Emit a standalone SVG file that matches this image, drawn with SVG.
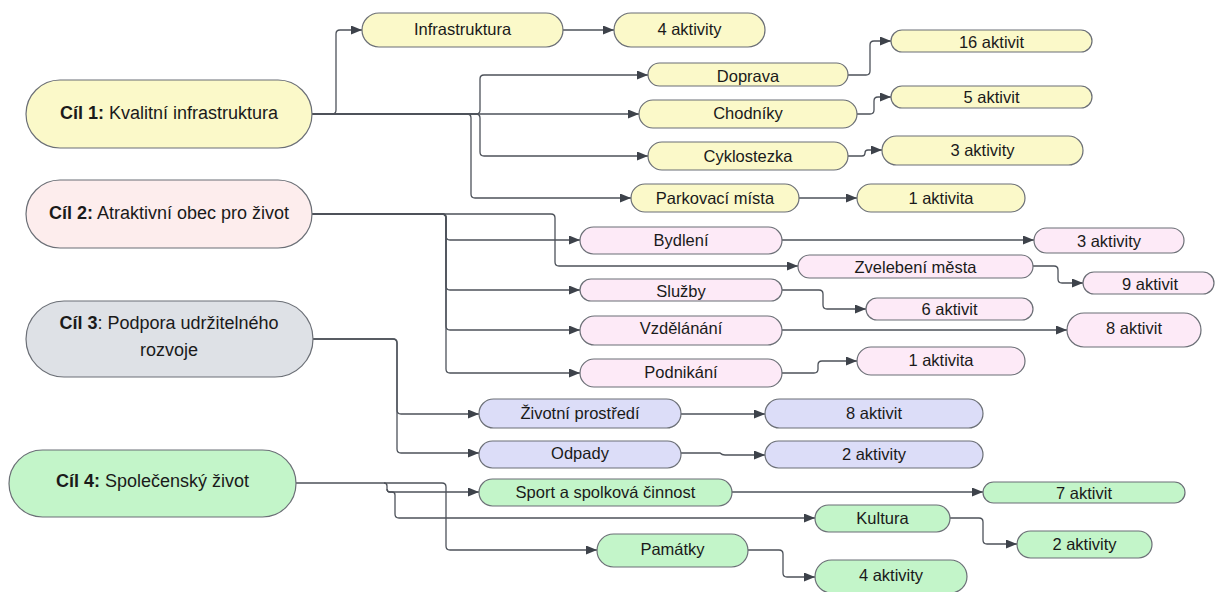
<svg xmlns="http://www.w3.org/2000/svg" width="1215" height="592" viewBox="0 0 1215 592">
<style>
.n{stroke:#6b6f76;stroke-width:1.2}
.y{fill:#FBF9C9}.pm{fill:#FDEDED}.p{fill:#FDEAF7}.g{fill:#DEE1E6}.b{fill:#DCDDF8}.gr{fill:#C3F5C9}
text{font-family:"Liberation Sans",Arial,sans-serif;fill:#1a1a1a;text-anchor:middle}
.m{font-size:18px}.c{font-size:16.5px}
.bd{font-weight:bold}
.e{fill:none;stroke:#4d525a;stroke-width:1.3;marker-end:url(#ah)}
.e2{fill:none;stroke:#4d525a;stroke-width:1.3}
</style>
<defs>
<marker id="ah" markerUnits="userSpaceOnUse" markerWidth="11" markerHeight="9" refX="11" refY="4.5" orient="auto">
<path d="M0,0 L11,4.5 L0,9 z" fill="#3d424a"/>
</marker>
</defs>
<rect width="1215" height="592" fill="#ffffff"/>
<g id="connectors">
<!-- Cil 1 -->
<path class="e" d="M312 114 H332 Q336 114 336 110 V34 Q336 30 340 30 H362"/>
<path class="e" d="M312 114 H476 Q480 114 480 110 V79 Q480 75 484 75 H648"/>
<path class="e" d="M312 114 H639"/>
<path class="e" d="M312 114 H476 Q480 114 480 118 V152 Q480 156 484 156 H648"/>
<path class="e" d="M312 114 H467 Q471 114 471 118 V194 Q471 198 475 198 H631"/>
<path class="e" d="M563 30 H614"/>
<path class="e" d="M848 75 H866 Q870 75 870 71 V45 Q870 41 874 41 H891"/>
<path class="e" d="M857 114 H870 Q874 114 874 110 V101 Q874 97 878 97 H891"/>
<path class="e" d="M848 156 H862 Q865 156 865 153 Q865 150 868 150 H882"/>
<path class="e" d="M799 198 H857"/>
<!-- Cil 2 -->
<path class="e" d="M312 214 H442 Q446 214 446 218 V236 Q446 240 450 240 H580"/>
<path class="e" d="M312 214 H442 Q446 214 446 218 V286 Q446 290 450 290 H580"/>
<path class="e" d="M312 214 H442 Q446 214 446 218 V326 Q446 330 450 330 H580"/>
<path class="e" d="M312 214 H442 Q446 214 446 218 V369 Q446 373 450 373 H580"/>
<path class="e" d="M312 214 H551 Q555 214 555 218 V262 Q555 266 559 266 H798"/>
<path class="e" d="M782 240 H1034"/>
<path class="e" d="M1033 266 H1054 Q1058 266 1058 270 V279 Q1058 283 1062 283 H1083"/>
<path class="e" d="M782 290 H819 Q823 290 823 294 V305 Q823 309 827 309 H866"/>
<path class="e" d="M782 330 H1067"/>
<path class="e" d="M782 373 H814 Q818 373 818 369 V365 Q818 361 822 361 H857"/>
<!-- Cil 3 -->
<path class="e" d="M313 339 H393 Q397 339 397 343 V410 Q397 414 401 414 H479"/>
<path class="e" d="M313 339 H393 Q397 339 397 343 V449 Q397 453 401 453 H479"/>
<path class="e" d="M681 414 H765"/>
<path class="e" d="M681 453 H720 Q722 455 725 455 H765"/>
<!-- Cil 4 -->
<path class="e" d="M296 483 H384 Q387 483 387 486 V489 Q387 492 390 492 H479"/>
<path class="e" d="M387 489 Q387 492 390 492 H392 Q395 492 395 495 V514 Q395 518 399 518 H815"/>
<path class="e" d="M384 483 H442 Q446 483 446 487 V546 Q446 550 450 550 H597"/>
<path class="e" d="M732 492 H983"/>
<path class="e" d="M950 518 H979 Q983 518 983 522 V540 Q983 544 987 544 H1017"/>
<path class="e" d="M748 550 H779 Q783 550 783 554 V573 Q783 577 787 577 H815"/>
</g>
<g id="cil1"><rect class="n y" x="26" y="80" width="286" height="68" rx="34"/><text class="m" x="169" y="119"><tspan class="bd">Cíl 1:</tspan> Kvalitní infrastruktura</text></g>
<g id="cil2"><rect class="n pm" x="26" y="180" width="286" height="68" rx="34"/><text class="m" x="169" y="219"><tspan class="bd">Cíl 2:</tspan> Atraktivní obec pro život</text></g>
<g id="cil3"><rect class="n g" x="26" y="301" width="287" height="76" rx="38"/><text class="m" x="169" y="329"><tspan class="bd">Cíl 3</tspan>: Podpora udržitelného</text><text class="m" x="169" y="356">rozvoje</text></g>
<g id="cil4"><rect class="n gr" x="9" y="450" width="287" height="67" rx="33.5"/><text class="m" x="152.5" y="487"><tspan class="bd">Cíl 4:</tspan> Společenský život</text></g>

<g id="infrastruktura"><rect class="n y" x="362" y="13" width="201" height="34" rx="17"/><text class="c" x="462.5" y="35">Infrastruktura</text></g>
<g id="a-infra"><rect class="n y" x="614" y="13" width="151" height="34" rx="17"/><text class="c" x="689.5" y="35">4 aktivity</text></g>
<g id="doprava"><rect class="n y" x="648" y="63" width="200" height="23" rx="11.5"/><text class="c" x="748" y="82">Doprava</text></g>
<g id="chodniky"><rect class="n y" x="639" y="100" width="218" height="28" rx="14"/><text class="c" x="748" y="119">Chodníky</text></g>
<g id="cyklostezka"><rect class="n y" x="648" y="142" width="200" height="28" rx="14"/><text class="c" x="748" y="162">Cyklostezka</text></g>
<g id="parkovaci"><rect class="n y" x="631" y="184" width="168" height="28" rx="14"/><text class="c" x="715" y="204">Parkovací místa</text></g>
<g id="a-doprava"><rect class="n y" x="891" y="30" width="201" height="22" rx="11"/><text class="c" x="991.5" y="48">16 aktivit</text></g>
<g id="a-chodniky"><rect class="n y" x="891" y="86" width="201" height="22" rx="11"/><text class="c" x="991.5" y="103">5 aktivit</text></g>
<g id="a-cyklo"><rect class="n y" x="882" y="136" width="201" height="29" rx="14.5"/><text class="c" x="982.5" y="156">3 aktivity</text></g>
<g id="a-parkovaci"><rect class="n y" x="857" y="184" width="168" height="28" rx="14"/><text class="c" x="941" y="204">1 aktivita</text></g>

<g id="bydleni"><rect class="n p" x="580" y="227" width="202" height="27" rx="13.5"/><text class="c" x="681" y="246">Bydlení</text></g>
<g id="zvelebeni"><rect class="n p" x="798" y="255" width="235" height="23" rx="11.5"/><text class="c" x="915.5" y="273">Zvelebení města</text></g>
<g id="sluzby"><rect class="n p" x="580" y="279" width="202" height="22" rx="11"/><text class="c" x="681" y="297">Služby</text></g>
<g id="vzdelanani"><rect class="n p" x="580" y="316" width="202" height="29" rx="14.5"/><text class="c" x="681" y="334">Vzdělánání</text></g>
<g id="podnikani"><rect class="n p" x="580" y="359" width="202" height="28" rx="14"/><text class="c" x="681" y="378">Podnikání</text></g>
<g id="a-bydleni"><rect class="n p" x="1034" y="228" width="150" height="25" rx="12.5"/><text class="c" x="1109" y="247">3 aktivity</text></g>
<g id="a-zvelebeni"><rect class="n p" x="1083" y="272" width="131" height="22" rx="11"/><text class="c" x="1150" y="290">9 aktivit</text></g>
<g id="a-sluzby"><rect class="n p" x="866" y="298" width="167" height="22" rx="11"/><text class="c" x="949.5" y="315">6 aktivit</text></g>
<g id="a-vzdelanani"><rect class="n p" x="1067" y="313" width="134" height="34" rx="17"/><text class="c" x="1134" y="334">8 aktivit</text></g>
<g id="a-podnikani"><rect class="n p" x="857" y="347" width="168" height="28" rx="14"/><text class="c" x="941" y="366">1 aktivita</text></g>

<g id="zivotni"><rect class="n b" x="479" y="399" width="202" height="29" rx="14.5"/><text class="c" x="580" y="419">Životní prostředí</text></g>
<g id="odpady"><rect class="n b" x="479" y="441" width="202" height="27" rx="13.5"/><text class="c" x="580" y="459">Odpady</text></g>
<g id="a-zivotni"><rect class="n b" x="765" y="399" width="218" height="29" rx="14.5"/><text class="c" x="874" y="419">8 aktivit</text></g>
<g id="a-odpady"><rect class="n b" x="765" y="441" width="218" height="27" rx="13.5"/><text class="c" x="874" y="460">2 aktivity</text></g>

<g id="sport"><rect class="n gr" x="479" y="479" width="253" height="27" rx="13.5"/><text class="c" x="605.5" y="498">Sport a spolková činnost</text></g>
<g id="kultura"><rect class="n gr" x="815" y="505" width="135" height="27" rx="13.5"/><text class="c" x="882.5" y="524">Kultura</text></g>
<g id="pamatky"><rect class="n gr" x="597" y="534" width="151" height="33" rx="16.5"/><text class="c" x="672.5" y="555">Památky</text></g>
<g id="a-sport"><rect class="n gr" x="983" y="482" width="202" height="21" rx="10.5"/><text class="c" x="1084" y="499">7 aktivit</text></g>
<g id="a-kultura"><rect class="n gr" x="1017" y="531" width="135" height="27" rx="13.5"/><text class="c" x="1084.5" y="550">2 aktivity</text></g>
<g id="a-pamatky"><rect class="n gr" x="815" y="560" width="152" height="33" rx="16.5"/><text class="c" x="891" y="581">4 aktivity</text></g>
</svg>
